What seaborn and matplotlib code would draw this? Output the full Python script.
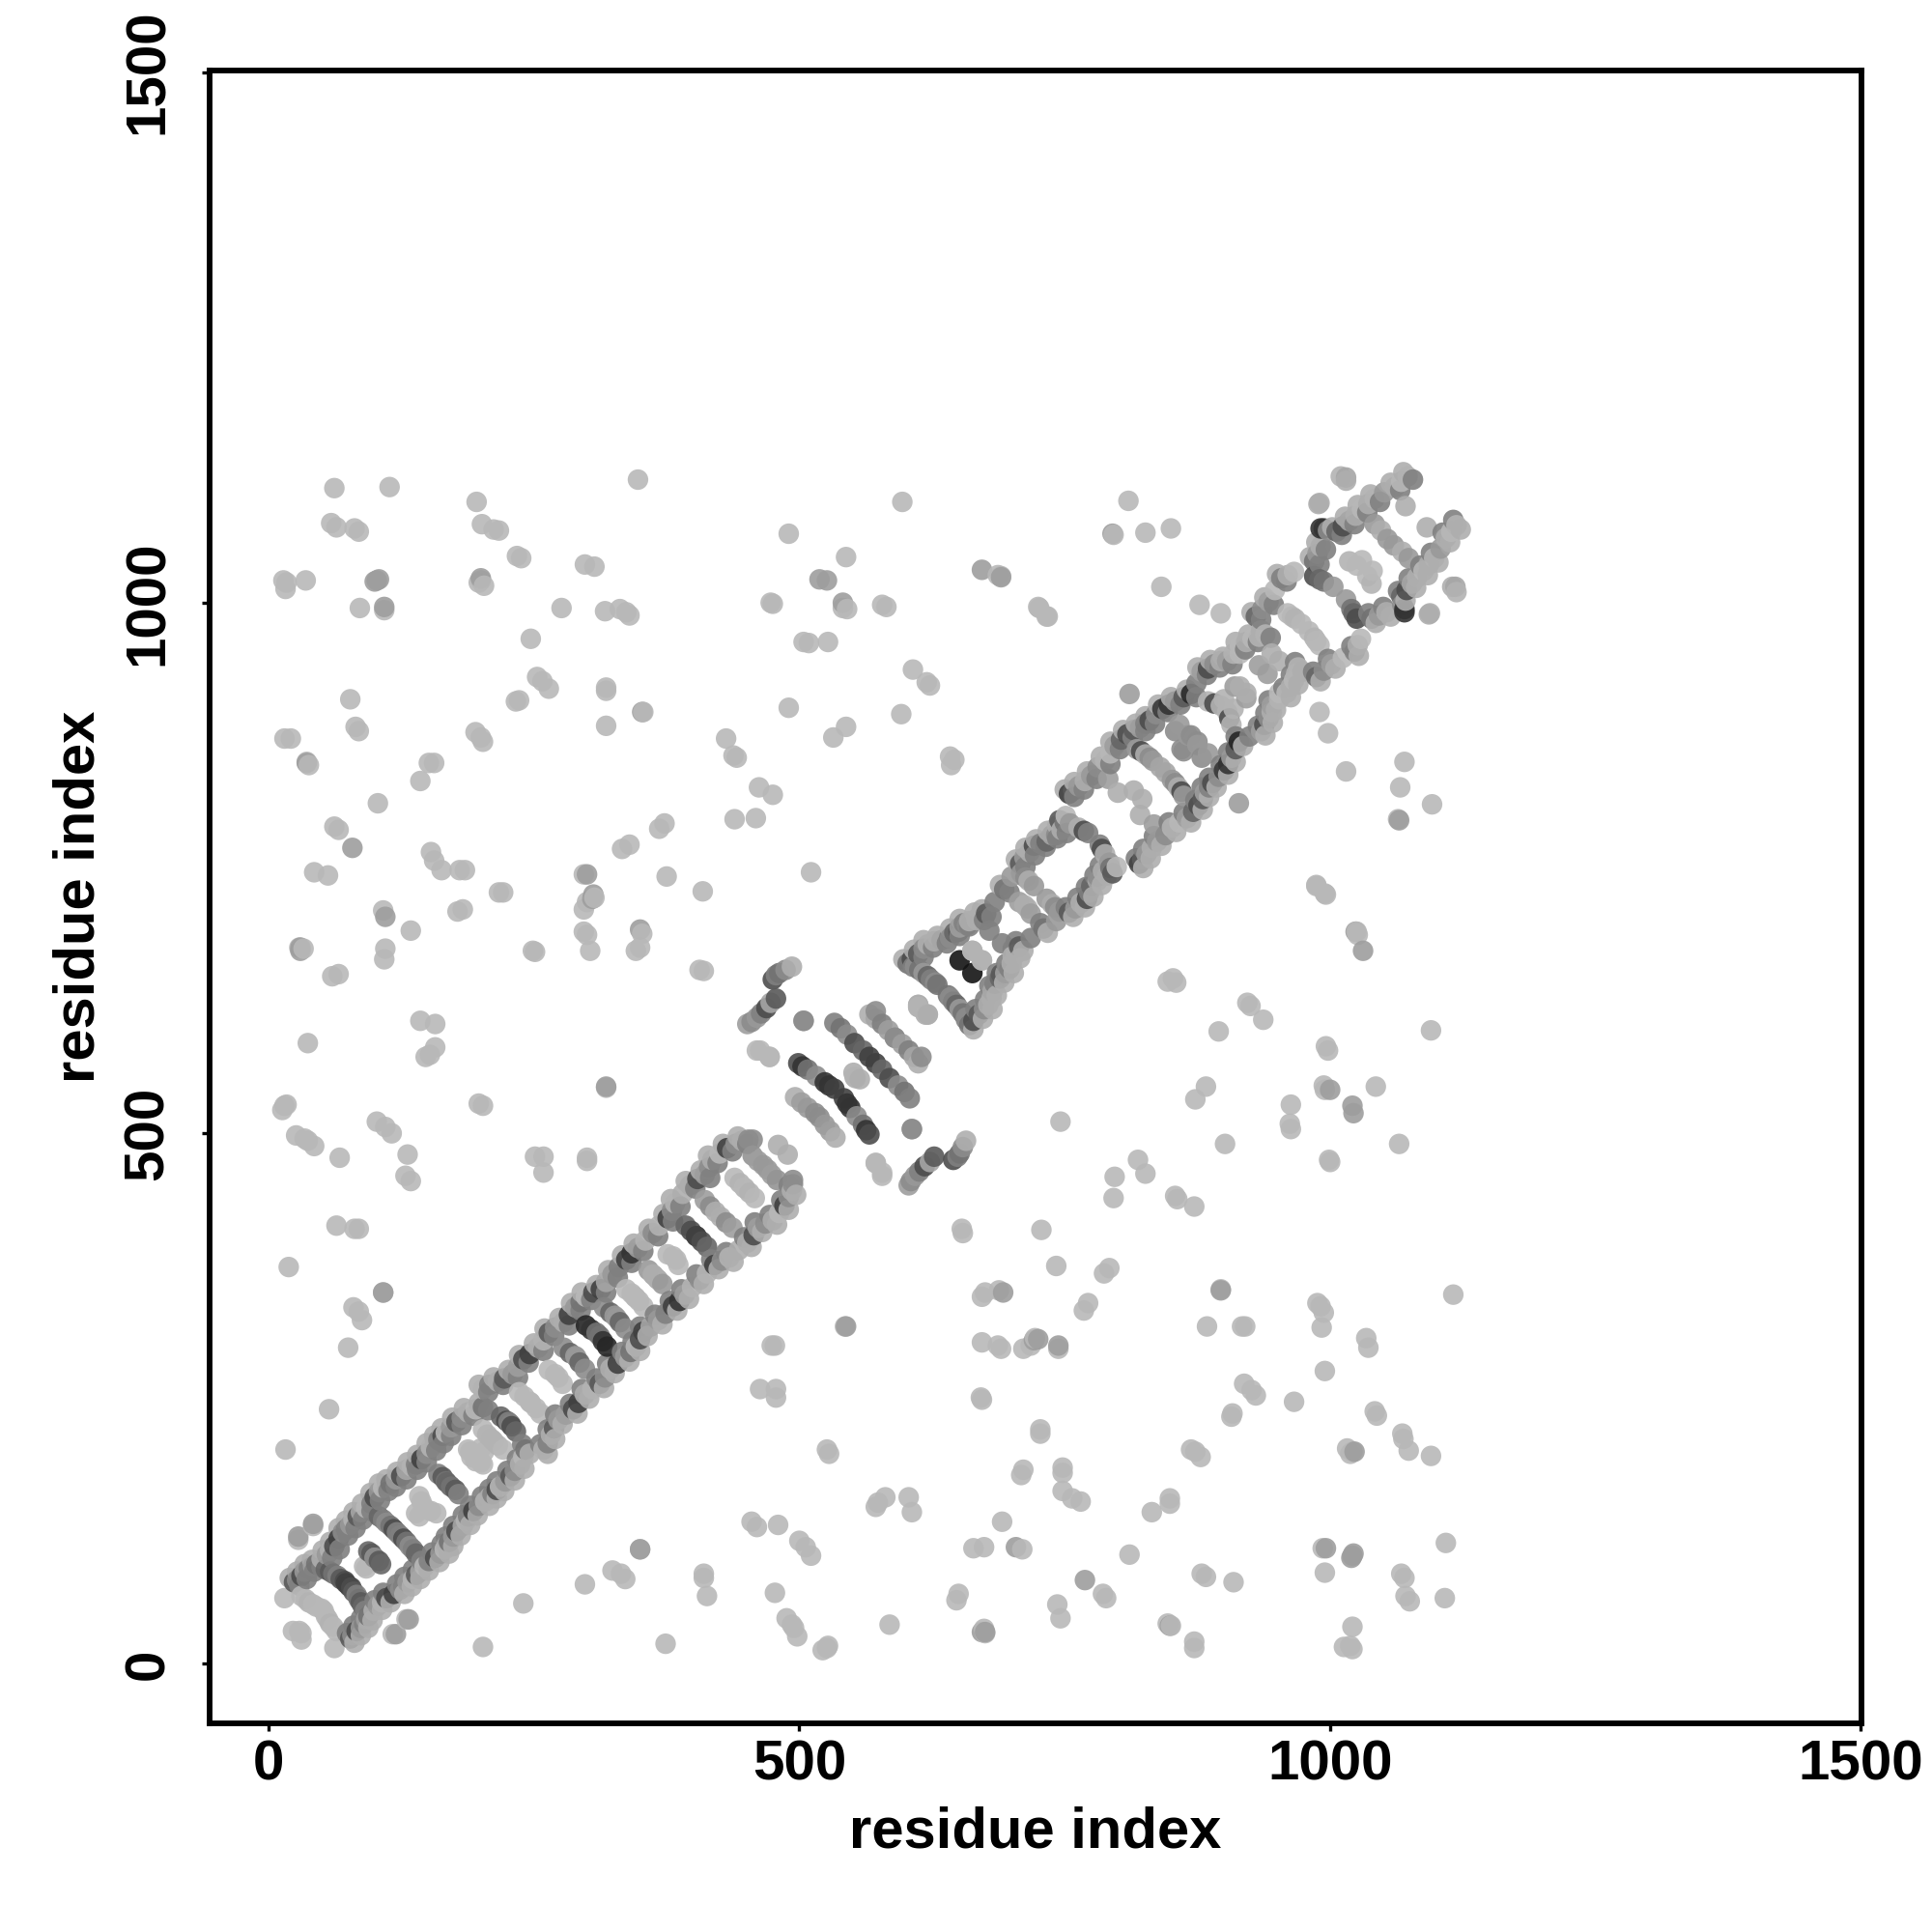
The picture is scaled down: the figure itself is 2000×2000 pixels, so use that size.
import pandas as pd
import seaborn as sns
import matplotlib.pyplot as plt

# contact map is symmetric, only i<j is listed and the rest is mirrored below
far_light_i = [62,114,196,201,217,212,59,64,81,85,238,234,298,307,348,14,17,16,35,109,86,200,203,198,276,317,331,337,340,247,253,258,264,236,233,318,318,353,318,77,82,85,15,21,36,38,151,156,143,195,200,202,103,62,66,153,156,163,180,185,43,56,108,110,109,134,29,33,60,66,217,221,183,178,249,251,297,300,307,297,297,300,303,340,333,368,373,375,409,352,350,346,406,410,431,438,441,462,475,439,459,490,490,544,475,473,541,545,504,509,527,578,582,597,607,620,623,596,544,532,642,646,643,511,690,687,726,734,810,796,826,850,841,877,897,37,143,157,148,152,157,318,15,17,13,202,198,26,34,37,43,67,102,110,116,131,129,134,251,259,259,300,300,64,81,85,19,108,80,85,88,75,57,16,28,42,15,23,31,463,472,572,578,612,619,725,733]
far_light_j = [1108,1109,1095,1074,1068,1069,1075,1071,1070,1067,1042,1044,1036,1034,1116,1021,1019,1013,1021,993,995,1021,1016,1019,995,992,994,991,988,966,930,926,919,908,907,920,917,897,884,909,883,879,872,872,850,847,849,849,832,878,873,869,811,789,786,765,757,748,748,748,746,743,710,674,664,691,675,674,648,650,727,727,711,709,672,671,744,718,722,711,690,687,672,772,768,787,792,742,728,688,675,672,654,653,872,856,854,826,819,796,797,901,1065,1043,999,1000,995,994,963,962,963,998,996,1095,937,925,922,895,883,873,855,852,847,746,1025,1026,995,987,1096,1064,1066,1070,1015,998,990,585,606,603,572,574,581,543,526,527,522,526,528,498,495,493,488,477,511,506,500,480,460,455,478,478,463,477,474,413,410,410,374,350,336,332,324,298,240,202,117,130,62,31,29,578,572,472,460,621,612,996,987]

far_mid_i = [102,104,100,109,200,318,36,79,110,30,300,305,526,541,672,690,811,795,504,352,30,306,350,28,42,108,519]
far_mid_j = [1021,1022,1020,996,1023,544,849,769,704,675,744,721,1021,1000,1031,1024,914,1065,606,897,672,725,692,120,132,350,1022]

# rail of the first repeat block, above the diagonal
rail_a_i = [24,27,31,34,38,42,45,50,55,58,62,66,70,73,77,80,84,87,92,97,100,104,108,112,115,120,125,130,135,139,144,149,153,157,160,164,167,172,177,182,188,195,202,202,208,216,222,230,235,240,246,254,259,264,270,278,283,289,294,299,306,313,318,324,330,337,342,348,355,362,368,376,380,383,390,397,404,411,415,418,425,432,440,446,452,456]
rail_a_j = [77,79,83,87,90,92,94,99,103,107,111,118,124,127,131,136,139,143,147,151,157,162,166,168,170,174,177,183,186,188,193,198,204,208,211,215,218,223,228,232,237,240,242,259,263,266,269,273,280,287,292,298,305,312,317,322,329,336,341,346,350,353,360,367,374,381,387,392,399,406,413,420,427,434,443,451,457,461,468,475,481,486,490,493,494,494]
rail_a_tone = [.35,.55,.3,.6,.5,.62,.45,.68,.6,.7,.3,.25,.55,.5,.6,.7,.35,.65,.72,.5,.3,.6,.72,.68,.45,.6,.3,.65,.7,.5,.25,.55,.7,.68,.5,.3,.72,.6,.35,.55,.68,.72,.45,.7,.5,.68,.35,.6,.62,.3,.25,.68,.7,.35,.55,.68,.25,.6,.45,.72,.3,.25,.65,.6,.5,.25,.2,.62,.7,.55,.7,.25,.55,.7,.68,.68,.3,.62,.55,.68,.72,.25,.55,.68,.55,.55]

# the rails are thicker than one dot, outer and inner rows
rail_a_outer_i = [20,27,34,41,51,58,66,73,80,88,96,104,111,121,131,140,149,156,163,173,184,198,198,212,226,236,250,260,274,285,295,309,320,333,344,358,372,379,393,407,414,428,442]
rail_a_outer_j = [81,87,94,98,107,115,128,135,143,151,161,170,174,181,190,197,208,215,222,232,241,246,263,270,277,291,302,316,326,340,350,357,371,385,396,410,424,438,455,465,479,490,497]
rail_a_inner_i = [29,36,43,50,60,67,75,82,89,97,105,113,120,130,140,149,158,165,172,182,193,207,207,221,235,245,259,269,283,294,304,318,329,342,353,367,381,388,402,416,423,437,451]
rail_a_inner_j = [74,80,87,91,100,108,121,128,136,144,154,163,167,174,183,190,201,208,215,225,234,239,256,263,270,284,295,309,319,333,343,350,364,378,389,403,417,431,448,458,472,483,490]

# inner rungs of the first block
rung_a_i = [31,35,38,42,45,50,54,58,61,65,68,73,78,90,94,100,104,104,108,111,115,118,124,139,142,146,153,160,164,167,171,188,191,190,200,202,206,210,219,224,228,236,241,246,264,270,278,284,290,299,304,309,316,322,328,337,342,346,358,362,366,376,381,393,398,403,411,416,421,439,444,448,456,461,466,480]
rung_a_j = [64,61,58,56,54,52,89,87,85,83,80,76,72,92,106,100,97,139,136,133,130,127,121,142,158,148,144,179,176,172,168,202,195,200,203,221,216,212,233,229,226,256,252,247,277,273,298,293,289,319,315,312,336,331,326,353,349,345,371,367,363,386,384,413,408,403,437,431,426,458,453,449,479,474,470,489]
rung_a_tone = [.72,.72,.7,.72,.72,.72,.4,.35,.45,.5,.35,.25,.3,.72,.4,.55,.35,.4,.5,.55,.45,.3,.5,.72,.72,.72,.72,.5,.35,.45,.4,.72,.72,.72,.72,.72,.7,.7,.4,.3,.5,.72,.72,.72,.72,.72,.55,.4,.6,.15,.2,.45,.55,.4,.6,.72,.72,.72,.6,.68,.68,.72,.72,.4,.3,.25,.62,.55,.68,.72,.7,.72,.58,.62,.6,.68]

# middle domain, short pieces
mid_i = [451,455,460,464,469,473,478,475,478,481,487,493,499,503,508,516,524,528,533,496,502,508,515,533,539,545,552,560,566,566,572,578,584,590,572,551,553,504,612,619]
mid_j = [603,605,609,613,618,623,627,645,649,651,654,657,566,563,560,554,548,545,542,534,529,524,519,604,599,593,585,578,572,612,608,603,597,590,615,557,552,606,621,612]
mid_tone = [.62,.55,.6,.5,.3,.65,.35,.3,.5,.45,.55,.68,.3,.2,.45,.55,.2,.2,.25,.68,.62,.6,.55,.5,.45,.55,.3,.4,.25,.68,.65,.5,.62,.55,.55,.68,.7,.55,.68,.7]

# rail of the second repeat block
rail_b_i = [602,606,612,617,621,627,634,642,646,651,655,660,669,641,650,658,667,676,684,693,700,708,712,717,721,727,733,738,742,747,751,754,758,763,769,775,781,788,793,797,803,809,815,821,826,830,836,842,848,854,862,869,874,879,885,891,897,903,909,915,921,927,933,939,930,936,942,948,954,960,966,985,988,991,991,998,1006,1012,1018,1024,1030,1036,1042,1051,1061,1067,1073,989,1015,1010,994,1015,990,1071]
rail_b_j = [660,664,669,674,678,681,682,684,689,694,698,700,704,684,690,696,701,707,718,730,742,754,760,765,771,773,775,781,781,786,799,820,823,827,832,837,845,851,858,865,871,876,880,882,886,889,895,900,904,907,911,914,924,935,938,942,945,945,952,959,963,966,968,970,987,994,1001,1012,1023,1026,1029,1039,1046,1053,1070,1068,1067,1072,1077,1082,1088,1093,1098,1104,1109,1114,1119,1093,1118,1119,1070,1115,1094,1091]
rail_b_tone = [.45,.3,.35,.55,.68,.68,.65,.55,.4,.62,.5,.68,.68,.5,.35,.55,.68,.35,.5,.45,.6,.35,.6,.68,.3,.5,.4,.65,.55,.68,.72,.25,.35,.6,.68,.6,.55,.7,.72,.62,.4,.3,.35,.62,.5,.3,.55,.22,.2,.6,.35,.15,.5,.62,.3,.55,.68,.62,.7,.72,.68,.72,.7,.7,.4,.55,.62,.72,.5,.68,.72,.45,.6,.68,.2,.55,.4,.3,.65,.68,.72,.68,.7,.6,.68,.72,.7,.68,.65,.7,.2,.68,.68,.68]

rail_b_outer_i = [598,608,617,630,642,651,665,672,689,704,713,723,734,743,750,759,771,784,793,805,817,826,838,850,865,875,887,899,911,923,935,926,938,950,981,987,1002,1014,1026,1038,1057,1069]
rail_b_outer_j = [664,673,682,686,693,702,708,711,734,758,769,777,785,790,824,831,841,855,869,880,886,893,904,911,918,939,946,949,963,970,974,991,1005,1027,1043,1057,1071,1081,1092,1102,1113,1123]
rail_b_inner_i = [607,617,626,639,651,660,674,681,698,713,722,732,743,752,759,768,780,793,802,814,826,835,847,859,874,884,896,908,920,932,944,935,947,959,990,996,1011,1023,1035,1047,1066,1078]
rail_b_inner_j = [657,666,675,679,686,695,701,704,727,751,762,770,778,783,817,824,834,848,862,873,879,886,897,904,911,932,939,942,956,963,967,984,998,1020,1036,1050,1064,1074,1085,1095,1106,1116]

# inner rungs of the second block
rung_b_i = [609,613,617,621,624,628,630,651,663,672,679,709,713,716,721,707,712,745,750,755,763,768,772,791,800,815,818,822,826,830,833,840,854,860,866,875,885,885,891,897,909,915,921,915,933,945,960,964,967,973,985,990,994,1003,1018,1025,1042,1048,1054,1030]
rung_b_j = [657,654,651,648,645,642,640,663,672,663,691,745,741,738,733,718,715,795,793,792,788,785,783,834,821,823,862,860,857,854,851,845,879,862,875,869,858,907,905,903,900,921,910,952,941,952,990,987,985,980,1025,1022,1020,1015,1039,1035,1074,1068,1060,1040]
rung_b_tone = [.55,.45,.6,.4,.5,.55,.45,.08,.7,.7,.5,.6,.55,.68,.6,.62,.68,.35,.45,.6,.68,.3,.5,.62,.68,.68,.6,.3,.68,.55,.6,.65,.55,.55,.6,.55,.6,.7,.3,.7,.7,.68,.62,.72,.62,.68,.72,.72,.7,.72,.3,.4,.45,.6,.7,.72,.6,.68,.6,.72]

x_ticks = [0, 500, 1000, 1500]
y_ticks = [0, 500, 1000, 1500]

tick_font = ['Liberation Sans', 'DejaVu Sans']


def make_frame():
    i = far_light_i + far_mid_i + rail_a_outer_i + rail_a_inner_i + rail_b_outer_i + rail_b_inner_i
    j = far_light_j + far_mid_j + rail_a_outer_j + rail_a_inner_j + rail_b_outer_j + rail_b_inner_j
    tone = [.72] * len(far_light_i) + [.62] * len(far_mid_i)
    tone += [.68] * len(rail_a_outer_i) + [.5] * len(rail_a_inner_i)
    tone += [.68] * len(rail_b_outer_i) + [.5] * len(rail_b_inner_i)
    i = i + rail_a_i + rung_a_i + mid_i + rail_b_i + rung_b_i
    j = j + rail_a_j + rung_a_j + mid_j + rail_b_j + rung_b_j
    tone = tone + rail_a_tone + rung_a_tone + mid_tone + rail_b_tone + rung_b_tone
    top = pd.DataFrame({'x': i, 'y': j, 'tone': tone})
    low = pd.DataFrame({'x': j, 'y': i, 'tone': tone})
    df = pd.concat([top, low], ignore_index=True)
    return df.sort_values('x', kind='stable')


sns.set_style('white')
plt.rcParams['font.family'] = tick_font
plt.rcParams['font.weight'] = 'bold'
plt.rcParams['text.color'] = 'black'

fig = plt.figure(figsize=(20, 20), dpi=100)
ax = fig.add_axes([217 / 2000, 216 / 2000, 1710 / 2000, 1711 / 2000])

df = make_frame()
sns.scatterplot(data=df, x='x', y='y', hue='tone', palette='gray', hue_norm=(0, 1),
                s=235, linewidth=0, alpha=0.9, legend=False, ax=ax)

ax.set_xlim(-55.5, 1500.5)
ax.set_ylim(-56, 1501.5)
ax.set_xticks(x_ticks)
ax.set_yticks(y_ticks)
ax.tick_params(axis='both', length=6, width=2.4, color='black', labelcolor='black', labelsize=42, left=True, bottom=True)
ax.tick_params(axis='x', pad=6)
ax.tick_params(axis='y', pad=20)
for t in ax.get_yticklabels():
    t.set_rotation(90)
    t.set_va('center')
for s in ax.spines.values():
    s.set_linewidth(4.2)
    s.set_color('black')

ax.set_xlabel('residue index', fontsize=43, fontweight='bold', color='black')
ax.set_ylabel('residue index', fontsize=43, fontweight='bold', color='black')
ax.xaxis.set_label_coords(0.5, -0.05)
ax.yaxis.set_label_coords(-0.063, 0.5)

fig.savefig('out.png', dpi=100, facecolor='white')
